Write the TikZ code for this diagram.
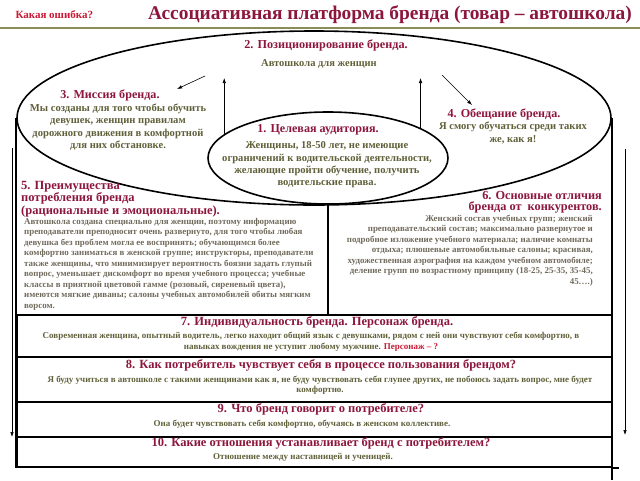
\documentclass[tikz,border=0pt]{standalone}
\usepackage{fontspec}
\setmainfont{Liberation Serif}
\usetikzlibrary{shapes.geometric,arrows.meta,positioning}
\definecolor{brandred}{RGB}{140,22,60}
\definecolor{errred}{RGB}{200,24,52}
\definecolor{bodyolive}{RGB}{96,96,58}
\definecolor{bodygray}{RGB}{112,106,92}
\definecolor{ruleolive}{RGB}{140,140,88}

\tikzset{
  head/.style={text=brandred, inner sep=0pt, align=center,
    font=\fontsize{12.1}{11}\selectfont\bfseries},
  body/.style={text=bodyolive, inner sep=0pt, align=center,
    font=\fontsize{10.6}{12.3}\selectfont\bfseries},
  fine/.style={text=bodygray, inner sep=0pt,
    font=\fontsize{8.9}{10.5}\selectfont\bfseries},
  rowhead/.style={head, font=\fontsize{12.5}{11}\selectfont\bfseries},
  rowbody/.style={body, font=\fontsize{9}{10.5}\selectfont\bfseries},
  frame/.style={line width=1.6pt},
  rowbox/.style={draw, frame, minimum width=595pt, inner sep=0pt},
  link/.style={-{Latex[length=5pt,width=3.5pt]}, line width=0.6pt},
}

\begin{document}
\begin{tikzpicture}[x=1pt,y=-1pt]
  \useasboundingbox (0,0) rectangle (640,480);

  % title
  \node[anchor=west, text=errred, font=\fontsize{11}{11}\selectfont\bfseries]
    (mistake) at (12,15) {Какая ошибка?};
  \node[text=brandred, font=\fontsize{19.4}{19}\selectfont\bfseries]
    (title) at (390,15) {Ассоциативная платформа бренда (товар – автошкола)};
  \coordinate (rule-l) at (0,28);
  \coordinate (rule-r) at (640,28);
  \draw[ruleolive, line width=1.4pt] (rule-l) -- (rule-r);

  % ellipses
  \node[draw, ellipse, frame, minimum width=594pt, minimum height=174pt]
    (platform) at (314,118) {};

  % frame and rows
  \node[rowbox, minimum height=42pt] (row7)  at (314.5,336)   {};
  \node[rowbox, minimum height=45pt] (row8)  at (314.5,379.5) {};
  \node[rowbox, minimum height=35pt] (row9)  at (314.5,419.5) {};
  \node[rowbox, minimum height=30pt] (row10) at (314.5,452)   {};
  \draw[frame] (platform.west) -- (platform.west |- row10.south);
  \draw[frame] (platform.east) -- (platform.east |- 0,480);
  \draw[frame] (row10.south east) -- ++(6,0);

  \node[draw, ellipse, frame, fill=white, minimum width=240pt, minimum height=92pt]
    (audience) at (328,158) {};

  % arrows
  \coordinate (pos-l) at (224,78);
  \coordinate (pos-r) at (420,78);
  \draw[link] (audience.167) -- (audience.167 |- pos-l);
  \draw[link] (audience.18) -- (audience.18 |- pos-r);
  \coordinate (mis-s) at (205,76);
  \coordinate (mis-e) at (177,89);
  \draw[link] (mis-s) -- (mis-e);
  \coordinate (pro-s) at (442,75);
  \coordinate (pro-e) at (472,105);
  \draw[link] (pro-s) -- (pro-e);
  \draw[frame] (audience.south) -- (audience.south |- row7.north);

  \coordinate (side-l) at (12,148);
  \coordinate (side-l-end) at (12,437);
  \draw[link] (side-l) -- (side-l-end);
  \coordinate (side-r) at (625,149);
  \coordinate (side-r-end) at (625,435);
  \draw[link] (side-r) -- (side-r-end);

  % 2
  \node[head, font=\fontsize{12.2}{12}\selectfont\bfseries] (position) at (326,45)
    {2. Позиционирование бренда.};
  \node[body, font=\fontsize{10.5}{12}\selectfont\bfseries] (position-txt) at (319,64)
    {Автошкола для женщин};

  % 3
  \node[head] (mission) at (110,95) {3. Миссия бренда.};
  \node[body] (mission-txt) at (118,127)
    {Мы созданы для того чтобы обучить\\девушек, женщин правилам\\дорожного движения в комфортной\\для них обстановке.};

  % 1
  \node[head] (target) at (318,130) {1. Целевая аудитория.};
  \node[body] (target-txt) at (327,165)
    {Женщины, 18-50 лет, не имеющие\\ограничений к водительской деятельности,\\желающие пройти обучение, получить\\водительские права.};

  % 4
  \node[head] (promise) at (504,114) {4. Обещание бренда.};
  \node[body] (promise-txt) at (513,133)
    {Я смогу обучаться среди таких\\же, как я!};

  % 5
  \node[head, anchor=west, align=left, font=\fontsize{12.5}{11}\selectfont\bfseries]
    (benefit) at (21,199)
    {5. Преимущества\\потребления бренда\\(рациональные и эмоциональные).};
  \node[fine, anchor=west, align=left] (benefit-txt) at (24,264)
    {Автошкола создана специально для женщин, поэтому информацию\\
     преподаватели преподносит очень развернуто, для того чтобы любая\\
     девушка без проблем могла ее воспринять; обучающимся более\\
     комфортно заниматься в женской группе; инструкторы, преподаватели\\
     также женщины, что минимизирует вероятность боязни задать глупый\\
     вопрос, уменьшает дискомфорт во время учебного процесса; учебные\\
     классы в приятной цветовой гамме (розовый, сиреневый цвета),\\
     имеются мягкие диваны; салоны учебных автомобилей обиты мягким\\
     ворсом.};

  % 6
  \node[head, anchor=east, align=right, font=\fontsize{12.3}{11}\selectfont\bfseries]
    (differ) at (602,202.5)
    {6. Основные отличия\\бренда от \ конкурентов.};
  \node[fine, anchor=east, align=right] (differ-txt) at (593,250.5)
    {Женский состав учебных групп; женский\\
     преподавательский состав; максимально развернутое и\\
     подробное изложение учебного материала; наличие комнаты\\
     отдыха; плюшевые автомобильные салоны; красивая,\\
     художественная аэрография на каждом учебном автомобиле;\\
     деление групп по возрастному принципу (18-25, 25-35, 35-45,\\
     45….)};

  % 7 - 10
  \node[rowhead] (person) at (317,322) {7. Индивидуальность бренда. Персонаж бренда.};
  \node[rowbody] (person-txt) at (311,341.5)
    {Современная женщина, опытный водитель, легко находит общий язык с девушками, рядом с ней они чувствуют себя комфортно, в\\
     навыках вождения не уступит любому мужчине. \textcolor{errred}{Персонаж – ?}};
  \node[rowhead] (feel) at (321,365) {8. Как потребитель чувствует себя в процессе пользования брендом?};
  \node[rowbody] (feel-txt) at (320,385)
    {Я буду учиться в автошколе с такими женщинами как я, не буду чувствовать себя глупее других, не побоюсь задать вопрос, мне будет\\
     комфортно.};
  \node[rowhead] (says) at (321,409) {9. Что бренд говорит о потребителе?};
  \node[rowbody] (says-txt) at (302,424)
    {Она будет чувствовать себя комфортно, обучаясь в женском коллективе.};
  \node[rowhead] (relation) at (321,443) {10. Какие отношения устанавливает бренд с потребителем?};
  \node[rowbody] (relation-txt) at (303,457)
    {Отношение между наставницей и ученицей.};
\end{tikzpicture}
\end{document}
